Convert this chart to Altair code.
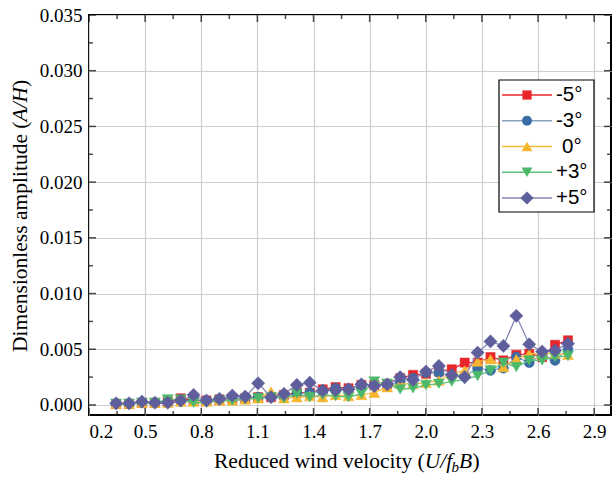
import altair as alt
import pandas as pd

# ---------------- data ----------------
x_vals = [0.345, 0.414, 0.483, 0.552, 0.621, 0.690, 0.759, 0.828, 0.897, 0.966,
          1.035, 1.104, 1.173, 1.242, 1.311, 1.380, 1.449, 1.518, 1.587, 1.656,
          1.725, 1.794, 1.863, 1.932, 2.001, 2.070, 2.139, 2.208, 2.277, 2.346,
          2.415, 2.484, 2.553, 2.622, 2.691, 2.760]

amp_m5 = [0.0001, 0.0001, 0.0002, 0.0002, 0.0003, 0.0006, 0.0004, 0.0004, 0.0005, 0.0006,
          0.0006, 0.0007, 0.0007, 0.0009, 0.0011, 0.0011, 0.0014, 0.0016, 0.0015, 0.0018,
          0.0018, 0.0019, 0.0024, 0.0027, 0.0028, 0.0030, 0.0032, 0.0038, 0.0038, 0.0043,
          0.0040, 0.0045, 0.0046, 0.0043, 0.0054, 0.0058]
amp_m3 = [0.0001, 0.0001, 0.0002, 0.0002, 0.0003, 0.0003, 0.0004, 0.0004, 0.0005, 0.0006,
          0.0006, 0.0007, 0.0007, 0.0008, 0.0010, 0.0011, 0.0012, 0.0015, 0.0014, 0.0017,
          0.0018, 0.0018, 0.0021, 0.0024, 0.0029, 0.0029, 0.0026, 0.0026, 0.0033, 0.0031,
          0.0033, 0.0043, 0.0038, 0.0045, 0.0040, 0.0050]
amp_0 = [0.0001, 0.0001, 0.0002, 0.0002, 0.0002, 0.0003, 0.0003, 0.0003, 0.0004, 0.0004,
         0.0005, 0.0006, 0.0012, 0.0006, 0.0007, 0.0008, 0.0007, 0.0009, 0.0008, 0.0009,
         0.0011, 0.0016, 0.0019, 0.0019, 0.0020, 0.0022, 0.0028, 0.0031, 0.0039, 0.0041,
         0.0034, 0.0041, 0.0046, 0.0046, 0.0046, 0.0045]
amp_p3 = [0.0001, 0.0001, 0.0002, 0.0002, 0.0005, 0.0005, 0.0002, 0.0002, 0.0004, 0.0004,
          0.0005, 0.0006, 0.0007, 0.0006, 0.0010, 0.0007, 0.0009, 0.0008, 0.0007, 0.0010,
          0.0021, 0.0019, 0.0014, 0.0015, 0.0018, 0.0019, 0.0021, 0.0023, 0.0026, 0.0031,
          0.0038, 0.0034, 0.0040, 0.0040, 0.0043, 0.0044]
amp_p5 = [0.00015, 0.00015, 0.0003, 0.0002, 0.0002, 0.0004, 0.0009, 0.0004, 0.00055, 0.00085,
          0.00075, 0.00195, 0.0007, 0.0010, 0.0018, 0.0020, 0.0013, 0.00135, 0.0014, 0.00185,
          0.0017, 0.00185, 0.0025, 0.00225, 0.0030, 0.0035, 0.0027, 0.0025, 0.0047, 0.0057,
          0.0053, 0.0080, 0.00545, 0.0048, 0.0049, 0.0055]

series_labels = ["-5°", "-3°", "0°", "+3°", "+5°"]
series_values = [amp_m5, amp_m3, amp_0, amp_p3, amp_p5]

x_major = [0.2, 0.5, 0.8, 1.1, 1.4, 1.7, 2.0, 2.3, 2.6, 2.9]
x_minor = [0.35, 0.65, 0.95, 1.25, 1.55, 1.85, 2.15, 2.45, 2.75]
y_major = [0.0, 0.005, 0.010, 0.015, 0.020, 0.025, 0.030, 0.035]
y_minor = [0.0025, 0.0075, 0.0125, 0.0175, 0.0225, 0.0275, 0.0325]

# ---------------- styles ----------------
marker_colors = ["#E8262A", "#3A6CA6", "#F6B630", "#4CB86A", "#5E5E9C"]
line_colors = ["#E8262A", "#86A2C4", "#F6BC38", "#5CC07A", "#8787B6"]
shapes = ["square", "circle", "triangle-up", "triangle-down", "diamond"]
sizes = [85, 100, 120, 120, 175]

W, H = 522, 400
xs = alt.Scale(domain=[0.2, 2.99], nice=False, zero=False)
ys = alt.Scale(domain=[-0.0009, 0.035], nice=False, zero=False)

SERIF = "Liberation Serif"
x_axis = alt.Axis(values=x_major, format=".1f", title=None, ticks=False, domain=False,
                  grid=True, gridColor="#cfcfcf", gridWidth=1.2,
                  labelFont=SERIF, labelFontSize=19, labelColor="black", labelPadding=7)
y_axis = alt.Axis(values=y_major, format=".3f", title=None, ticks=False, domain=False,
                  grid=True, gridColor="#cfcfcf", gridWidth=1.2,
                  labelFont=SERIF, labelFontSize=19, labelColor="black", labelPadding=7)

one = pd.DataFrame({"k": [0]})

layers = []
for lab, vals, mc, lc, sh, sz in zip(series_labels, series_values, marker_colors,
                                     line_colors, shapes, sizes):
    df = pd.DataFrame({"x": x_vals, "y": vals})
    base = alt.Chart(df).encode(
        x=alt.X("x:Q", scale=xs, axis=x_axis),
        y=alt.Y("y:Q", scale=ys, axis=y_axis),
    )
    layers.append(base.mark_line(color=lc, strokeWidth=1.3))
    layers.append(base.mark_point(shape=sh, filled=True, size=sz, color=mc, opacity=1,
                                  stroke=mc, strokeWidth=0.5))

# inward ticks
xmaj = pd.DataFrame({"v": x_major})
xmin_ = pd.DataFrame({"v": x_minor})
ymaj = pd.DataFrame({"v": y_major})
ymin_ = pd.DataFrame({"v": y_minor})
XT = alt.X("v:Q", scale=xs, axis=x_axis)
YT = alt.Y("v:Q", scale=ys, axis=y_axis)
for dfv, ln in ((xmaj, 7), (xmin_, 4)):
    layers.append(alt.Chart(dfv).mark_tick(color="black", size=ln, thickness=1.5)
                  .encode(x=XT, y=alt.value(H - ln / 2)))
    layers.append(alt.Chart(dfv).mark_tick(color="black", size=ln, thickness=1.5)
                  .encode(x=XT, y=alt.value(ln / 2)))
for dfv, ln in ((ymaj, 7), (ymin_, 4)):
    layers.append(alt.Chart(dfv).mark_tick(color="black", size=ln, thickness=1.5)
                  .encode(y=YT, x=alt.value(ln / 2)))
    layers.append(alt.Chart(dfv).mark_tick(color="black", size=ln, thickness=1.5)
                  .encode(y=YT, x=alt.value(W - ln / 2)))


def piece(txt, x, y, size, style="normal", angle=0):
    return alt.Chart(one).mark_text(
        text=txt, font=SERIF, fontSize=size, fontStyle=style, angle=angle,
        align="left", baseline="alphabetic", color="black"
    ).encode(x=alt.value(x), y=alt.value(y))


# x title: Reduced wind velocity (U/f_b B)
TS = 21.5
layers += [
    piece("Reduced wind velocity (", 125, 453, TS),
    piece("U/f", 335.8, 453, TS, "italic"),
    piece("b", 362.5, 457, 15, "italic"),
    piece("B", 370.0, 453, TS, "italic"),
    piece(")", 383.5, 453, TS),
]
# y title: Dimensionless amplitude (A/H)
layers += [
    piece("Dimensionless amplitude (", -62, 337, TS, angle=270),
    piece("A/H", -62, 106.5, TS, "italic", angle=270),
    piece(")", -62, 71.9, TS, angle=270),
]

main = alt.layer(*layers)

# legend
leg_df = pd.DataFrame({
    "label": series_labels,
    "mc": marker_colors,
    "lc": line_colors,
    "shape": shapes,
    "size": sizes,
})
LY = alt.Y("label:N", sort=series_labels,
           scale=alt.Scale(type="point", domain=series_labels, range=[80, 183], padding=0),
           axis=None)
legend_box = alt.Chart(one).mark_rect(fill="white", stroke="black", strokeWidth=1.2).encode(
    x=alt.value(410), x2=alt.value(505), y=alt.value(65), y2=alt.value(197))
legend_lines = alt.Chart(leg_df).mark_rule(strokeWidth=1.3).encode(
    x=alt.value(413), x2=alt.value(463), y=LY,
    color=alt.Color("lc:N", scale=None))
legend_pts = alt.Chart(leg_df).mark_point(filled=True, opacity=1).encode(
    x=alt.value(438), y=LY,
    color=alt.Color("mc:N", scale=None),
    shape=alt.Shape("shape:N", scale=None),
    size=alt.Size("size:Q", scale=None))
legend_txt = alt.Chart(leg_df).mark_text(
    font="Liberation Sans", fontSize=20.5, align="left", baseline="middle", color="black"
).encode(x=alt.value(467), y=LY, text="label:N").transform_filter(
    alt.datum.label != "0°")
legend_txt0 = alt.Chart(leg_df).mark_text(
    font="Liberation Sans", fontSize=20.5, align="left", baseline="middle", color="black"
).encode(x=alt.value(473), y=LY, text="label:N").transform_filter(
    alt.datum.label == "0°")
legend = alt.layer(legend_box, legend_lines, legend_pts, legend_txt, legend_txt0)

chart = alt.layer(main, legend).resolve_scale(
    y="independent", color="independent", shape="independent", size="independent"
).properties(
    width=W, height=H,
    autosize=alt.AutoSizeParams(type="none"),
    padding={"left": 89, "top": 15, "right": 1, "bottom": 66},
    background="white",
).configure_view(stroke="black", strokeWidth=2)

chart.save("out.html", embed_options={"renderer": "svg", "actions": False})
